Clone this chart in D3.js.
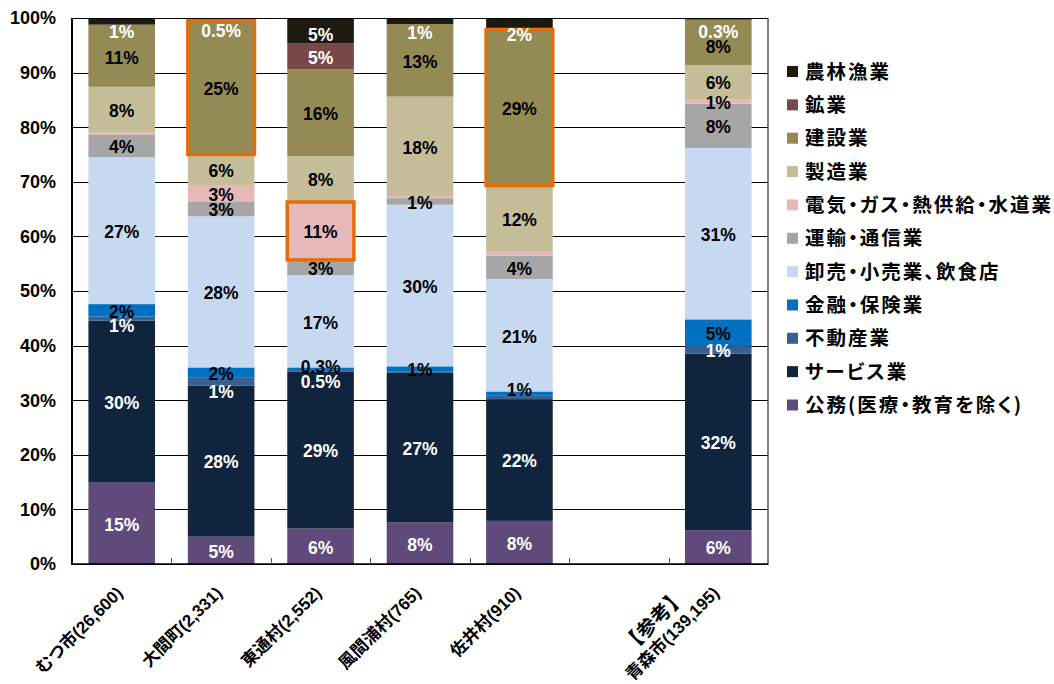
<!DOCTYPE html>
<html lang="ja">
<head>
<meta charset="UTF-8">
<title>産業別就業者構成比</title>
<script src="https://d3js.org/d3.v7.min.js"></script>
<style>
  body { margin: 0; background: #fff; }
  text { font-family: "Liberation Sans", Arial, "Noto Sans CJK JP", sans-serif; font-weight: bold; }
  .grid line { stroke: #000; stroke-width: 1; }
  .cjk { font-family: "Noto Sans CJK JP", sans-serif; font-feature-settings: "palt"; }
</style>
</head>
<body>
<script>
// areas (one empty slot between 佐井村 and 青森市)
var areas = ["むつ市", "大間町", "東通村", "風間浦村", "佐井村", "gap", "青森市"];
var axisLabels = [["むつ市(26,600)"], ["大間町(2,331)"], ["東通村(2,552)"], ["風間浦村(765)"], ["佐井村(910)"], [], ["【参考】", "青森市(139,195)"]];

// sectors bottom -> top
var sectors = ["公務(医療・教育を除く)", "サービス業", "不動産業", "金融・保険業", "卸売・小売業、飲食店",
  "運輸・通信業", "電気・ガス・熱供給・水道業", "製造業", "建設業", "鉱業", "農林漁業"];
var colors = ["#604a7b", "#10243e", "#376092", "#0070c0", "#c6d9f1",
  "#a6a6a6", "#e6b9b8", "#c4bd97", "#948a54", "#784849", "#1d1b10"];

// share (%) per area, same order as areas
var koumu    = [14.9, 5.0, 6.5, 7.6, 7.9, 0, 6.2];
var service  = [29.7, 27.7, 28.7, 27.4, 22.3, 0, 32.3];
var fudousan = [0.7, 1.4, 0.5, 0.2, 0.6, 0, 1.4];
var kinyu    = [2.3, 1.9, 0.3, 1.0, 0.8, 0, 4.9];
var oroshi   = [26.9, 27.7, 16.9, 29.6, 20.6, 0, 31.4];
var unyu     = [4.1, 2.6, 2.8, 1.2, 4.3, 0, 8.1];
var denki    = [0.4, 3.1, 10.6, 0.4, 0.8, 0, 0.8];
var seizou   = [8.4, 5.6, 8.4, 18.2, 12.0, 0, 6.3];
var kensetsu = [11.2, 24.5, 15.9, 13.3, 28.6, 0, 8.3];
var kougyou  = [0.2, 0, 4.8, 0, 0, 0, 0];
var nourin   = [1.2, 0.5, 4.6, 1.1, 2.1, 0, 0.3];
var values = [koumu, service, fudousan, kinyu, oroshi, unyu, denki, seizou, kensetsu, kougyou, nourin];

// data labels as shown on the chart ("" = no label)
var labels = [
  ["15%", "5%", "6%", "8%", "8%", "", "6%"],
  ["30%", "28%", "29%", "27%", "22%", "", "32%"],
  ["1%", "1%", "0.5%", "", "", "", "1%"],
  ["2%", "2%", "0.3%", "1%", "1%", "", "5%"],
  ["27%", "28%", "17%", "30%", "21%", "", "31%"],
  ["4%", "3%", "3%", "1%", "4%", "", "8%"],
  ["", "3%", "11%", "", "", "", "1%"],
  ["8%", "6%", "8%", "18%", "12%", "", "6%"],
  ["11%", "25%", "16%", "13%", "29%", "", "8%"],
  ["", "", "5%", "", "", "", ""],
  ["1%", "0.5%", "5%", "1%", "2%", "", "0.3%"]
];
var whiteLabel = ["公務(医療・教育を除く)", "サービス業", "不動産業", "鉱業", "農林漁業"];

// highlighted segments (orange frames)
var highlights = [["大間町", "建設業"], ["東通村", "電気・ガス・熱供給・水道業"], ["佐井村", "建設業"]];

// small nudges for labels that were moved off tiny segments
var nudge = {
  "不動産業|むつ市": 6, "農林漁業|むつ市": 9,
  "農林漁業|大間町": 10, "不動産業|大間町": 9,
  "金融・保険業|東通村": -3, "不動産業|東通村": 10, "農林漁業|東通村": 3,
  "農林漁業|風間浦村": 11,
  "農林漁業|佐井村": 10, "金融・保険業|佐井村": -5,
  "農林漁業|青森市": 12, "建設業|青森市": 3
};

var W = 1054, H = 684;
var mLeft = 72, mRight = 768, mTop = 18, mBottom = 564;

var svg = d3.select("body").append("svg").attr("width", W).attr("height", H);

var x = d3.scaleBand().domain(areas).range([mLeft, mRight]).paddingInner(0.33).paddingOuter(0.165);
var slot = d3.scaleBand().domain(areas).range([mLeft, mRight]);
var y = d3.scaleLinear().domain([0, 100]).range([mBottom, mTop]);
var color = d3.scaleOrdinal().domain(sectors).range(colors);

var rows = areas.map(function (a, i) {
  var r = { area: a };
  sectors.forEach(function (s, j) { r[s] = values[j][i]; });
  return r;
});
var series = d3.stack().keys(sectors)(rows);

// gridlines
var ticks = d3.range(0, 101, 10);
svg.append("g").attr("class", "grid").selectAll("line").data(ticks).enter().append("line")
  .attr("x1", mLeft).attr("x2", mRight)
  .attr("y1", function (d) { return Math.round(y(d)) + 0.5; })
  .attr("y2", function (d) { return Math.round(y(d)) + 0.5; });

// y axis labels
svg.append("g").selectAll("text").data(ticks).enter().append("text")
  .attr("x", 56).attr("y", function (d) { return y(d); })
  .attr("dy", "0.36em").attr("text-anchor", "end")
  .style("font-size", "18px")
  .text(function (d) { return d + "%"; });

// bars
var layer = svg.append("g").selectAll("g").data(series).enter().append("g")
  .attr("fill", function (d) { return color(d.key); });
layer.selectAll("rect").data(function (d) { return d; }).enter().append("rect")
  .attr("x", function (d) { return x(d.data.area); })
  .attr("width", x.bandwidth())
  .attr("y", function (d) { return y(d[1]); })
  .attr("height", function (d) { return y(d[0]) - y(d[1]); });

// frame
svg.append("rect").attr("x", mLeft + 0.5).attr("y", Math.round(mTop) + 0.5)
  .attr("width", mRight - mLeft - 0.5).attr("height", mBottom - mTop)
  .attr("fill", "none").attr("stroke", "#000").attr("stroke-width", 1);
svg.append("line").attr("x1", mLeft).attr("x2", mLeft).attr("y1", mTop).attr("y2", mBottom + 1)
  .attr("stroke", "#000").attr("stroke-width", 2);
svg.append("line").attr("x1", mLeft).attr("x2", mRight).attr("y1", mBottom).attr("y2", mBottom)
  .attr("stroke", "#000").attr("stroke-width", 1.5);

// inner ticks at slot boundaries
svg.append("g").selectAll("line").data(areas.slice(1)).enter().append("line")
  .attr("x1", function (d) { return Math.round(slot(d)) + 0.5; })
  .attr("x2", function (d) { return Math.round(slot(d)) + 0.5; })
  .attr("y1", mBottom).attr("y2", mBottom - 6)
  .attr("stroke", "#555").attr("stroke-width", 1);

// orange highlight frames
highlights.forEach(function (h) {
  var s = series[sectors.indexOf(h[1])];
  var seg = s[areas.indexOf(h[0])];
  svg.append("rect")
    .attr("x", x(h[0])).attr("width", x.bandwidth())
    .attr("y", y(seg[1])).attr("height", y(seg[0]) - y(seg[1]))
    .attr("fill", "none").attr("stroke", "#e46c0a").attr("stroke-width", 3.5);
});

// data labels
series.forEach(function (s, j) {
  s.forEach(function (seg, i) {
    var t = labels[j][i];
    if (!t) return;
    var key = s.key + "|" + areas[i];
    svg.append("text")
      .attr("x", x(areas[i]) + x.bandwidth() / 2)
      .attr("y", (y(seg[0]) + y(seg[1])) / 2 + 1 + (nudge[key] || 0))
      .attr("dy", "0.36em").attr("text-anchor", "middle")
      .style("font-size", "17.5px")
      .attr("fill", whiteLabel.indexOf(s.key) >= 0 ? "#fff" : "#000")
      .text(t);
  });
});

// x axis labels, rotated
areas.forEach(function (a, i) {
  var lines = axisLabels[i];
  if (!lines.length) return;
  var cx = x(a) + x.bandwidth() / 2;
  var g = svg.append("g").attr("transform", "translate(" + (cx + 2) + "," + 594 + ") rotate(-45)");
  var last = g.append("text").attr("x", 0).attr("y", 0).attr("text-anchor", "end")
    .style("font-size", "17px").text(lines[lines.length - 1]);
  if (lines.length > 1) {
    var len = last.node().getComputedTextLength();
    g.append("text").attr("x", -len / 2 - 4).attr("y", -21).attr("text-anchor", "middle")
      .style("font-size", "20px").text(lines[0]);
  }
});

// legend (top item = top of stack)
var legendItems = sectors.slice().reverse();
var legend = svg.append("g").selectAll("g").data(legendItems).enter().append("g")
  .attr("transform", function (d, i) { return "translate(787," + (71.5 + i * 33.35) + ")"; });
legend.append("rect").attr("x", 0).attr("y", -5.5).attr("width", 11).attr("height", 11)
  .attr("fill", function (d) { return color(d); });
legend.append("text").attr("class", "cjk").attr("x", 18).attr("y", 0).attr("dy", "0.36em")
  .style("font-size", "19.5px").style("letter-spacing", "2px")
  .text(function (d) { return d; });
</script>
</body>
</html>
